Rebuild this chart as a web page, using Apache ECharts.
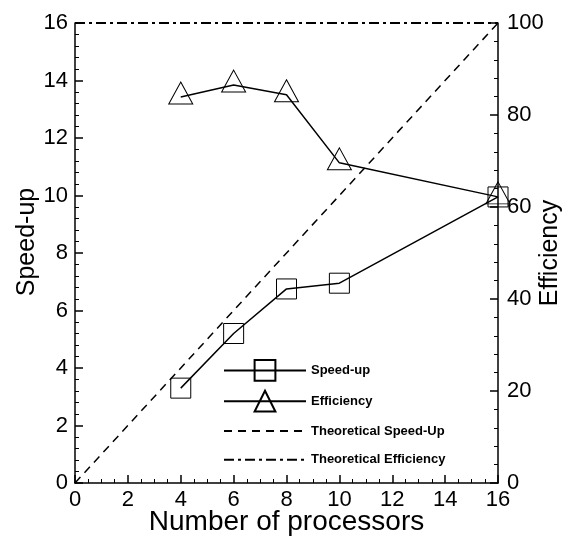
<!DOCTYPE html>
<html>
<head>
<meta charset="utf-8">
<script src="https://cdn.jsdelivr.net/npm/echarts@6/dist/echarts.min.js"></script>
<style>
  html, body { margin: 0; padding: 0; background: #fff; }
  #chart { width: 566px; height: 539px; }
</style>
</head>
<body>
<div id="chart"></div>
<script>
// Data
const processors = [4, 6, 8, 10, 16];
const speedUp = [3.3, 5.2, 6.75, 6.95, 9.95];
const efficiency = [83.9, 86.5, 84.4, 69.6, 62.2];
const theoreticalSpeedUp = [[0, 0], [16, 16]];
const theoreticalEfficiency = [[0, 100], [16, 100]];

const font = 'Liberation Sans, Arial, sans-serif';

const chart = echarts.init(document.getElementById('chart'));

const axisCommon = {
  axisLine: { show: true, lineStyle: { color: '#000', width: 1.5 } },
  axisTick: { show: true, inside: true, length: 8, lineStyle: { color: '#000', width: 1.5 } },
  minorTick: { show: true, length: 4, lineStyle: { color: '#000', width: 1 } },
  splitLine: { show: false },
  axisLabel: { color: '#000', fontSize: 22, fontFamily: font },
  nameTextStyle: { color: '#000', fontSize: 25, fontFamily: font },
  nameLocation: 'middle',
  nameMoveOverlap: false
};

const option = {
  backgroundColor: '#fff',
  animation: false,
  grid: { left: 75, right: 68, top: 23, bottom: 56, containLabel: false, outerBoundsMode: 'none' },
  legend: {
    orient: 'vertical',
    left: 218,
    top: 354,
    itemWidth: 82,
    itemHeight: 26,
    itemGap: 8,
    textStyle: { color: '#000', fontSize: 13, fontWeight: 'bold', fontFamily: font },
    data: [
      'Speed-up',
      'Efficiency',
      { name: 'Theoretical Speed-Up', itemStyle: { opacity: 0 } },
      { name: 'Theoretical Efficiency', itemStyle: { opacity: 0 } }
    ]
  },
  xAxis: Object.assign({}, axisCommon, {
    type: 'value',
    min: 0, max: 16, interval: 2,
    minorTick: Object.assign({}, axisCommon.minorTick, { splitNumber: 4 }),
    axisLabel: Object.assign({}, axisCommon.axisLabel, { margin: 6 }),
    name: 'Number of processors',
    nameTextStyle: Object.assign({}, axisCommon.nameTextStyle, { fontSize: 28 }),
    nameGap: 25
  }),
  yAxis: [
    Object.assign({}, axisCommon, {
      type: 'value',
      min: 0, max: 16, interval: 2,
      minorTick: Object.assign({}, axisCommon.minorTick, { splitNumber: 5 }),
      axisLabel: Object.assign({}, axisCommon.axisLabel, { margin: 7 }),
      name: 'Speed-up',
      nameTextStyle: Object.assign({}, axisCommon.nameTextStyle, { padding: [0, 0, 0, 22] }),
      nameGap: 35,
      nameRotate: 90
    }),
    Object.assign({}, axisCommon, {
      type: 'value',
      position: 'right',
      min: 0, max: 100, interval: 20,
      minorTick: Object.assign({}, axisCommon.minorTick, { splitNumber: 5 }),
      axisLabel: Object.assign({}, axisCommon.axisLabel, { margin: 9 }),
      name: 'Efficiency',
      nameGap: 40,
      nameRotate: 90
    })
  ],
  series: [
    {
      name: 'Speed-up',
      type: 'line',
      yAxisIndex: 0,
      data: processors.map((p, i) => [p, speedUp[i]]),
      symbol: 'rect',
      symbolSize: 20,
      lineStyle: { color: '#000', width: 1.5 },
      itemStyle: { color: 'rgba(0,0,0,0)', borderColor: '#000', borderWidth: 1 },
      z: 3
    },
    {
      name: 'Efficiency',
      type: 'line',
      yAxisIndex: 1,
      data: processors.map((p, i) => [p, efficiency[i]]),
      symbol: 'triangle',
      symbolSize: [24, 22],
      symbolOffset: [0, -4],
      lineStyle: { color: '#000', width: 1.5 },
      itemStyle: { color: 'rgba(0,0,0,0)', borderColor: '#000', borderWidth: 1 },
      z: 3
    },
    {
      name: 'Theoretical Speed-Up',
      type: 'line',
      yAxisIndex: 0,
      data: theoreticalSpeedUp,
      symbol: 'none',
      lineStyle: { color: '#000', width: 1.5, type: [8, 6] },
      itemStyle: { color: '#000' }
    },
    {
      name: 'Theoretical Efficiency',
      type: 'line',
      yAxisIndex: 1,
      data: theoreticalEfficiency,
      symbol: 'none',
      lineStyle: { color: '#000', width: 2, type: [10, 4, 3, 4] },
      itemStyle: { color: '#000' }
    }
  ]
};

chart.setOption(option);
</script>
</body>
</html>
